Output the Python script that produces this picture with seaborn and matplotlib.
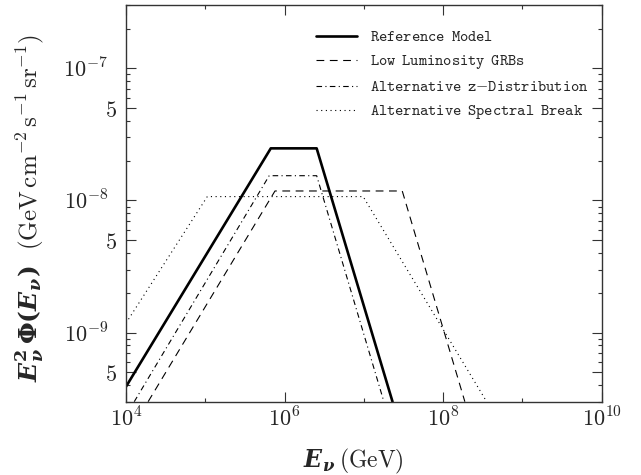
import matplotlib
matplotlib.use("Agg")
import matplotlib.pyplot as plt
import matplotlib.ticker as mticker
from matplotlib.transforms import ScaledTranslation
import pandas as pd
import seaborn as sns

# ---- data: break points of each flux spectrum (E in GeV, E^2 Phi in GeV cm^-2 s^-1 sr^-1)
ref_E = [1.0e4, 6.7e5, 2.54e6, 2.3e7]
ref_F = [3.9e-10, 2.48e-8, 2.48e-8, 3.0e-10]
lowlum_E = [1.9e4, 7.57e5, 3.05e7, 1.88e8]
lowlum_F = [3.0e-10, 1.18e-8, 1.18e-8, 3.0e-10]
altz_E = [1.27e4, 6.4e5, 2.54e6, 1.79e7]
altz_F = [3.0e-10, 1.54e-8, 1.54e-8, 3.0e-10]
altbreak_E = [1.0e4, 1.06e5, 9.8e6, 3.54e8]
altbreak_F = [1.18e-9, 1.07e-8, 1.07e-8, 3.0e-10]

series_names = ["Reference Model", "Low Luminosity GRBs",
                "Alternative z-Distribution", "Alternative Spectral Break"]

x_major = [1e4, 1e6, 1e8, 1e10]
x_major_labels = [r"$10^{4}$", r"$10^{6}$", r"$10^{8}$", r"$10^{10}$"]
x_minor = [1e5, 1e7, 1e9]
y_major = [5e-10, 1e-9, 5e-9, 1e-8, 5e-8, 1e-7]
y_major_labels = [r"$5$", r"$10^{-9}$", r"$5$", r"$10^{-8}$", r"$5$", r"$10^{-7}$"]
y_minor = [m * 10.0 ** d for d in (-10, -9, -8, -7) for m in (2, 3, 4, 6, 7, 8, 9)]

# ---- style
sns.set_style("ticks")
plt.rcParams["mathtext.fontset"] = "cm"
plt.rcParams["font.family"] = ["DejaVu Serif"]
plt.rcParams["mathtext.rm"] = "cmr10"
plt.rcParams["mathtext.it"] = "cmmi10"
plt.rcParams["mathtext.bf"] = "DejaVu Serif:bold"
plt.rcParams["mathtext.bfit"] = "DejaVu Serif:italic:bold"

fig = plt.figure(figsize=(6.41, 4.75), dpi=100)
ax = fig.add_axes([126 / 641, 1 - 401.7 / 475, (601.7 - 126) / 641, (401.7 - 5.3) / 475])

df = pd.concat([
    pd.DataFrame({"E": ref_E, "F": ref_F, "model": series_names[0]}),
    pd.DataFrame({"E": lowlum_E, "F": lowlum_F, "model": series_names[1]}),
    pd.DataFrame({"E": altz_E, "F": altz_F, "model": series_names[2]}),
    pd.DataFrame({"E": altbreak_E, "F": altbreak_F, "model": series_names[3]}),
], ignore_index=True)

styles = {
    series_names[0]: dict(lw=1.9, ls="-"),
    series_names[1]: dict(lw=0.8, ls=(0, (7, 5))),
    series_names[2]: dict(lw=0.8, ls=(0, (5, 3, 1, 3))),
    series_names[3]: dict(lw=0.8, ls=(0, (1, 3.2))),
}
legend_text = {
    series_names[0]: r"$\mathtt{Reference\enspace Model}$",
    series_names[1]: r"$\mathtt{Low\enspace Luminosity\enspace GRBs}$",
    series_names[2]: r"$\mathtt{Alternative\enspace z{-}Distribution}$",
    series_names[3]: r"$\mathtt{Alternative\enspace Spectral\enspace Break}$",
}

for name in series_names:
    sub = df[df["model"] == name]
    sns.lineplot(data=sub, x="E", y="F", ax=ax, color="black", sort=False,
                 estimator=None, label=legend_text[name],
                 linewidth=styles[name]["lw"], linestyle=styles[name]["ls"])

ax.set_xscale("log")
ax.set_yscale("log")
ax.set_xlim(1e4, 1e10)
ax.set_ylim(3e-10, 3e-7)

ax.xaxis.set_major_locator(mticker.FixedLocator(x_major))
ax.xaxis.set_major_formatter(mticker.FixedFormatter(x_major_labels))
ax.xaxis.set_minor_locator(mticker.FixedLocator(x_minor))
ax.xaxis.set_minor_formatter(mticker.NullFormatter())
ax.yaxis.set_major_locator(mticker.FixedLocator(y_major))
ax.yaxis.set_major_formatter(mticker.FixedFormatter(y_major_labels))
ax.yaxis.set_minor_locator(mticker.FixedLocator(y_minor))
ax.yaxis.set_minor_formatter(mticker.NullFormatter())

ax.tick_params(which="both", direction="in", top=True, right=True, width=0.8, color="#333333")
ax.tick_params(which="major", length=7.2, labelsize=16, pad=6.3)
ax.tick_params(which="minor", length=2.8)
ax.tick_params(axis="x", which="major", pad=4.0)
for sp in ax.spines.values():
    sp.set_linewidth(1.0)
    sp.set_color("#333333")

ax.set_xlabel(r"$\mathbfit{E}_{\mathbfit{\nu}}\,(\mathrm{GeV})$", fontsize=17,
              math_fontfamily="custom")
ax.set_ylabel(r"$\mathbfit{E}_{\mathbfit{\nu}}^{\mathbf{2}}\,\mathbf{\Phi(}\mathbfit{E}_{\mathbfit{\nu}}\mathbf{)}"
              r"\ \ (\mathrm{GeV}\,\mathrm{cm}^{-2}\,\mathrm{s}^{-1}\,\mathrm{sr}^{-1})$",
              fontsize=18, math_fontfamily="custom")
ax.xaxis.set_label_coords(0.477, -0.114)
ax.yaxis.set_label_coords(-0.168, 0.49)

leg = ax.legend(loc="upper left", bbox_to_anchor=(316 / 641, 1 - 28 / 475),
                bbox_transform=fig.transFigure, frameon=False, fontsize=11.3,
                handlelength=2.6, handletextpad=0.85, labelspacing=0.45,
                borderpad=0, borderaxespad=0)

# shift the decade labels on the y axis further left than the "5" labels
fig.canvas.draw()
shift = ScaledTranslation(-9 / 100, 0, fig.dpi_scale_trans)
for tick in ax.yaxis.get_major_ticks():
    if tick.label1.get_text().startswith("$10"):
        tick.label1.set_transform(tick.label1.get_transform() + shift)

fig.savefig("out.png", dpi=100)
